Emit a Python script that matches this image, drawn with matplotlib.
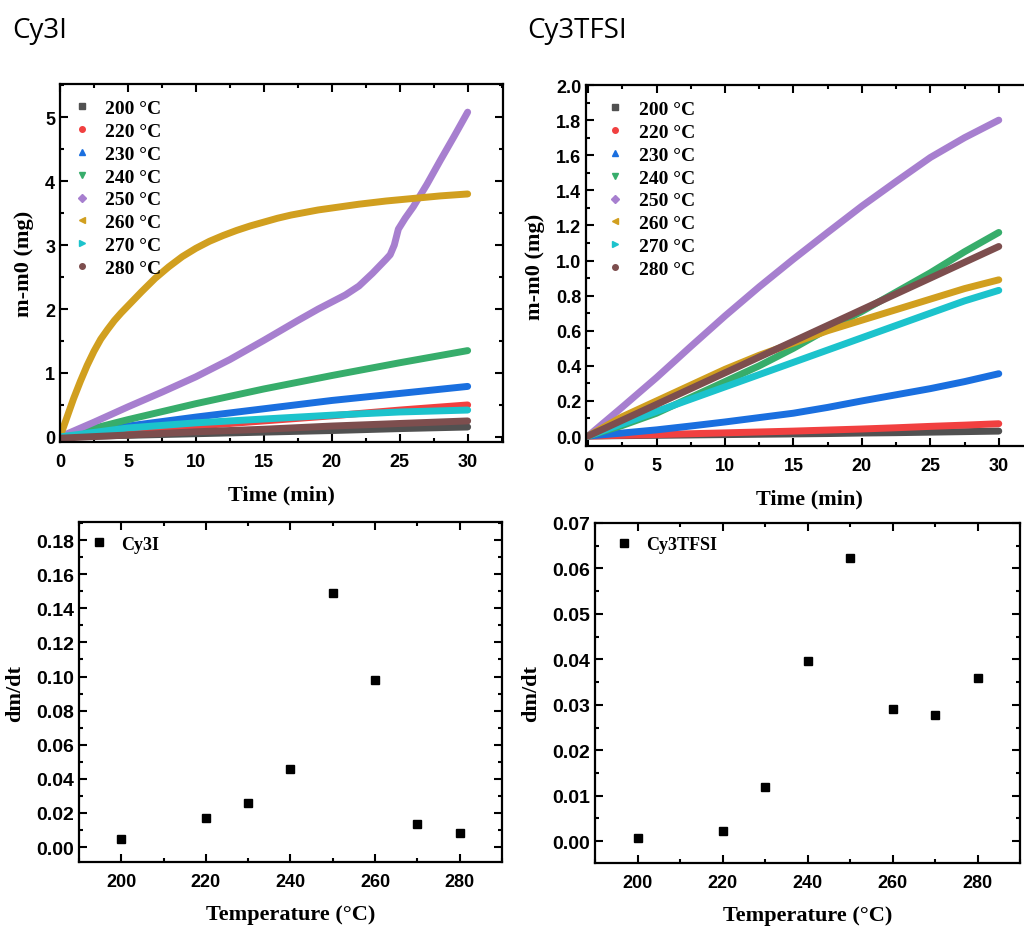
import matplotlib
matplotlib.use("Agg")
import matplotlib.pyplot as plt
from matplotlib.lines import Line2D
from matplotlib.ticker import MultipleLocator, FormatStrFormatter

# ---------------- data ----------------
temps_labels = ["200 °C", "220 °C", "230 °C", "240 °C", "250 °C", "260 °C", "270 °C", "280 °C"]
colors = ["#515151", "#F14040", "#1A6FDF", "#37AD6B", "#A77FCF", "#D19F1F", "#1CC3CC", "#7D4E4E"]
markers = ["s", "o", "^", "v", "D", "<", ">", "o"]

t_lin = [0, 5, 10, 15, 20, 25, 30]

# Cy3I  m-m0 (mg)
cy3i_200 = [0, 0.025, 0.05, 0.075, 0.10, 0.13, 0.155]
cy3i_220 = [0, 0.09, 0.17, 0.25, 0.33, 0.42, 0.50]
cy3i_230 = [0, 0.17, 0.31, 0.44, 0.57, 0.68, 0.79]
cy3i_240 = [0, 0.27, 0.52, 0.75, 0.96, 1.16, 1.35]
cy3i_250_t = [0, 2.5, 5, 7.5, 10, 12.5, 15, 17.5, 19, 20, 21, 22, 23, 24, 24.3, 24.6,
              24.9, 25.4, 26, 27, 28, 29, 30]
cy3i_250 = [0, 0.23, 0.47, 0.70, 0.94, 1.21, 1.51, 1.82, 2.0, 2.11, 2.22, 2.36, 2.56,
            2.78, 2.85, 3.0, 3.25, 3.42, 3.6, 3.95, 4.33, 4.7, 5.08]
cy3i_260_t = [0, 0.5, 1, 1.5, 2, 2.5, 3, 3.5, 4, 4.5, 5, 6, 7, 8, 9, 10, 11, 12, 13, 14,
              15, 16, 17, 18, 19, 20, 22, 24, 26, 28, 30]
cy3i_260 = [0, 0.30, 0.60, 0.87, 1.12, 1.34, 1.53, 1.68, 1.82, 1.94, 2.05, 2.27, 2.48,
            2.66, 2.82, 2.95, 3.06, 3.15, 3.23, 3.30, 3.36, 3.42, 3.47, 3.51, 3.55, 3.58,
            3.64, 3.69, 3.73, 3.77, 3.80]
cy3i_270 = [0, 0.14, 0.22, 0.28, 0.34, 0.39, 0.42]
cy3i_280 = [-0.02, 0.03, 0.08, 0.12, 0.17, 0.21, 0.25]

# Cy3TFSI  m-m0 (mg)
t_tfsi = [0, 2.5, 5, 7.5, 10, 12.5, 15, 17.5, 20, 22.5, 25, 27.5, 30]
tfsi_200 = [0, 0.002, 0.004, 0.006, 0.008, 0.010, 0.012, 0.014, 0.017, 0.019, 0.022, 0.025, 0.028]
tfsi_220 = [0, 0.004, 0.008, 0.013, 0.018, 0.023, 0.028, 0.034, 0.040, 0.047, 0.055, 0.062, 0.070]
tfsi_230 = [0, 0.017, 0.035, 0.057, 0.080, 0.105, 0.130, 0.163, 0.200, 0.235, 0.270, 0.310, 0.355]
tfsi_240 = [0, 0.06, 0.13, 0.22, 0.31, 0.40, 0.50, 0.61, 0.71, 0.82, 0.93, 1.05, 1.16]
tfsi_250 = [0, 0.165, 0.333, 0.51, 0.684, 0.85, 1.008, 1.16, 1.31, 1.45, 1.587, 1.70, 1.80]
tfsi_260 = [0, 0.11, 0.20, 0.29, 0.38, 0.46, 0.53, 0.60, 0.66, 0.72, 0.78, 0.84, 0.89]
tfsi_270 = [0, 0.07, 0.14, 0.21, 0.28, 0.35, 0.42, 0.49, 0.56, 0.63, 0.70, 0.77, 0.83]
tfsi_280 = [0, 0.09, 0.18, 0.27, 0.36, 0.45, 0.54, 0.63, 0.72, 0.81, 0.90, 0.99, 1.08]

# dm/dt vs temperature
temperature = [200, 220, 230, 240, 250, 260, 270, 280]
dmdt_cy3i = [0.005, 0.017, 0.026, 0.046, 0.149, 0.098, 0.0135, 0.0085]
dmdt_tfsi = [0.0008, 0.0023, 0.012, 0.0396, 0.0622, 0.029, 0.0277, 0.036]

# ---------------- style ----------------
SERIF = ["Liberation Serif", "DejaVu Serif"]
SANS = ["Liberation Sans", "DejaVu Sans"]

fig = plt.figure(figsize=(10.24, 9.28), dpi=100)


def style_axes(ax, xmaj, xmin, ymaj, ymin, yfmt=None, xsize=13, ysize=13):
    ax.xaxis.set_major_locator(MultipleLocator(xmaj))
    ax.xaxis.set_minor_locator(MultipleLocator(xmin))
    ax.yaxis.set_major_locator(MultipleLocator(ymaj))
    ax.yaxis.set_minor_locator(MultipleLocator(ymin))
    if yfmt:
        ax.yaxis.set_major_formatter(FormatStrFormatter(yfmt))
    ax.tick_params(which="both", direction="in", top=True, right=True, width=1.5)
    ax.tick_params(which="major", length=6)
    ax.tick_params(which="minor", length=3)
    ax.tick_params(axis="x", which="major", pad=8)
    for sp in ax.spines.values():
        sp.set_linewidth(1.6)
    for lab in ax.get_xticklabels():
        lab.set_fontfamily(SANS)
        lab.set_fontweight("bold")
        lab.set_fontsize(xsize)
    for lab in ax.get_yticklabels():
        lab.set_fontfamily(SANS)
        lab.set_fontweight("bold")
        lab.set_fontsize(ysize)


def line_legend(ax, anchor):
    handles = [Line2D([], [], ls="none", marker=m, color=c, ms=4)
               for m, c in zip(markers, colors)]
    ax.legend(handles, temps_labels, loc="upper left", bbox_to_anchor=anchor,
              frameon=False, handletextpad=0.7, labelspacing=0.27, handlelength=1.0,
              prop={"family": SERIF, "weight": "bold", "size": 14})


def labels(ax, xl, yl):
    ax.set_xlabel(xl, fontfamily=SERIF, fontweight="bold", fontsize=16, labelpad=10)
    ax.set_ylabel(yl, fontfamily=SERIF, fontweight="bold", fontsize=16, labelpad=8)


# ---------- top-left: Cy3I ----------
ax1 = fig.add_axes([0.0586, 0.5226, 0.4326, 0.3858])
cy3i_series = [(t_lin, cy3i_200), (t_lin, cy3i_220), (t_lin, cy3i_230), (t_lin, cy3i_240),
               (cy3i_250_t, cy3i_250), (cy3i_260_t, cy3i_260), (t_lin, cy3i_270),
               (t_lin, cy3i_280)]
for (tt, vv), c in zip(cy3i_series, colors):
    ax1.plot(tt, vv, color=c, lw=5, solid_capstyle="round", solid_joinstyle="round")
ax1.set_xlim(0, 32.6)
ax1.set_ylim(-0.08, 5.52)
style_axes(ax1, 5, 2.5, 1, 0.5)
labels(ax1, "Time (min)", "m-m0 (mg)")
line_legend(ax1, (-0.012, 1.006))

# ---------- top-right: Cy3TFSI ----------
ax2 = fig.add_axes([0.5723, 0.5183, 0.4365, 0.3890])
tfsi_series = [tfsi_200, tfsi_220, tfsi_230, tfsi_240, tfsi_250, tfsi_260, tfsi_270, tfsi_280]
for vv, c in zip(tfsi_series, colors):
    ax2.plot(t_tfsi, vv, color=c, lw=5, solid_capstyle="round", solid_joinstyle="round")
ax2.set_xlim(-0.15, 32.5)
ax2.set_ylim(-0.057, 2.0)
style_axes(ax2, 5, 2.5, 0.2, 0.1, yfmt="%.1f")
labels(ax2, "Time (min)", "m-m0 (mg)")
line_legend(ax2, (0.005, 1.006))

# ---------- bottom-left ----------
ax3 = fig.add_axes([0.0771, 0.0700, 0.4131, 0.3664])
ax3.plot(temperature, dmdt_cy3i, ls="none", marker="s", color="black", ms=6, label="Cy3I")
ax3.set_xlim(190, 290)
ax3.set_ylim(-0.0088, 0.1906)
style_axes(ax3, 20, 10, 0.02, 0.01, yfmt="%.2f", ysize=14)
labels(ax3, "Temperature (°C)", "dm/dt")
ax3.legend(loc="upper left", frameon=False, handletextpad=0.72, handlelength=1.0,
           bbox_to_anchor=(-0.013, 1.008),
           prop={"family": SERIF, "weight": "bold", "size": 13})

# ---------- bottom-right ----------
ax4 = fig.add_axes([0.5811, 0.0690, 0.4150, 0.3664])
ax4.plot(temperature, dmdt_tfsi, ls="none", marker="s", color="black", ms=6, label="Cy3TFSI")
ax4.set_xlim(190, 290)
ax4.set_ylim(-0.0048, 0.07)
style_axes(ax4, 20, 10, 0.01, 0.005, yfmt="%.2f", ysize=14)
labels(ax4, "Temperature (°C)", "dm/dt")
ax4.legend(loc="upper left", frameon=False, handletextpad=0.72, handlelength=1.0,
           bbox_to_anchor=(0.008, 1.008),
           prop={"family": SERIF, "weight": "bold", "size": 13})

# ---------- panel titles ----------
fig.text(12 / 1024, 1 - 38 / 928, "Cy3I", fontfamily=["Open Sans", "DejaVu Sans"], fontsize=20,
         ha="left", va="baseline")
fig.text(527 / 1024, 1 - 38 / 928, "Cy3TFSI", fontfamily=["Open Sans", "DejaVu Sans"], fontsize=20,
         ha="left", va="baseline")

fig.savefig("out.png", dpi=100)
